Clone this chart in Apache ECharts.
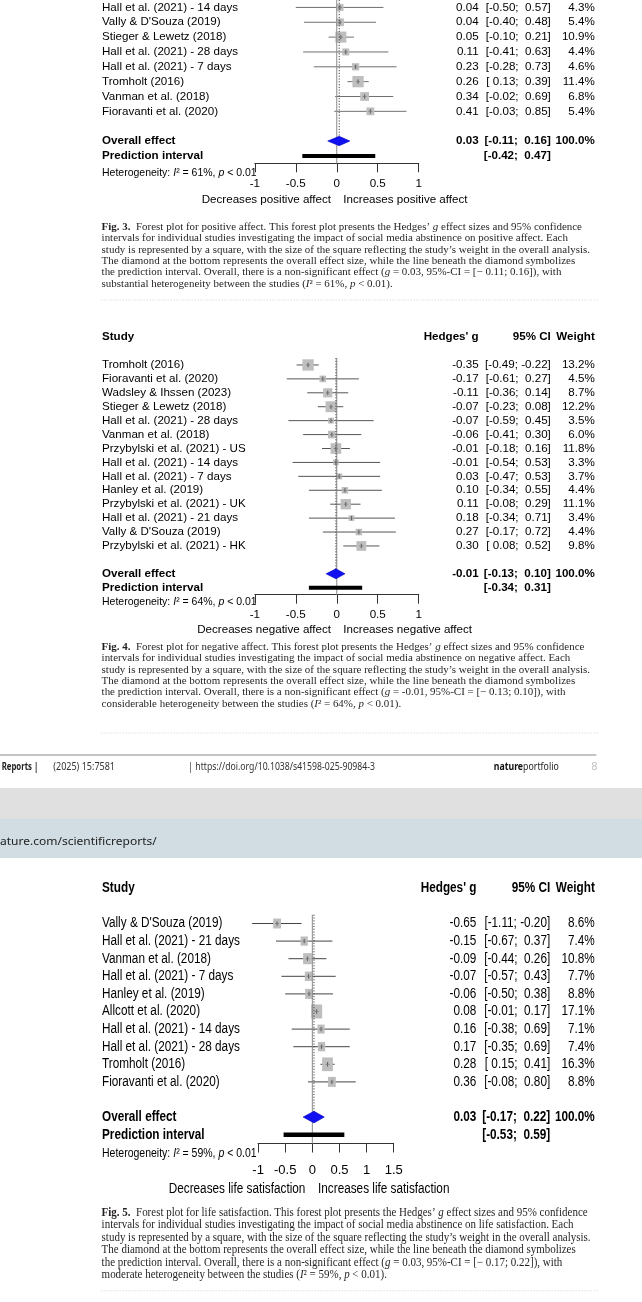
<!DOCTYPE html>
<html><head><meta charset="utf-8">
<script src="https://cdn.jsdelivr.net/npm/echarts@6/dist/echarts.min.js"></script>
<style>html,body{margin:0;padding:0;background:#fff}#chart{width:642px;height:1302px}</style>
</head><body><div id="chart"></div>
<script>
// ---------- DATA ----------
// Fig. 3 positive affect
const studies1 = ['Hall et al. (2021) - 14 days', "Vally & D'Souza (2019)", 'Stieger & Lewetz (2018)', 'Hall et al. (2021) - 28 days', 'Hall et al. (2021) - 7 days', 'Tromholt (2016)', 'Vanman et al. (2018)', 'Fioravanti et al. (2020)'];
const g1  = [0.04, 0.04, 0.05, 0.11, 0.23, 0.26, 0.34, 0.41];
const lo1 = [-0.50, -0.40, -0.10, -0.41, -0.28, 0.13, -0.02, -0.03];
const hi1 = [0.57, 0.48, 0.21, 0.63, 0.73, 0.39, 0.69, 0.85];
const w1  = [4.3, 5.4, 10.9, 4.4, 4.6, 11.4, 6.8, 5.4];
const overall1 = [0.03, -0.11, 0.16];
const pred1 = [-0.42, 0.47];
const i2_1 = 61;
const dir1 = ['Decreases positive affect', 'Increases positive affect'];
const ticks1 = ['-1', '-0.5', '0', '0.5', '1'];

// Fig. 4 negative affect
const studies2 = ['Tromholt (2016)', 'Fioravanti et al. (2020)', 'Wadsley & Ihssen (2023)', 'Stieger & Lewetz (2018)', 'Hall et al. (2021) - 28 days', 'Vanman et al. (2018)', 'Przybylski et al. (2021) - US', 'Hall et al. (2021) - 14 days', 'Hall et al. (2021) - 7 days', 'Hanley et al. (2019)', 'Przybylski et al. (2021) - UK', 'Hall et al. (2021) - 21 days', "Vally & D'Souza (2019)", 'Przybylski et al. (2021) - HK'];
const g2  = [-0.35, -0.17, -0.11, -0.07, -0.07, -0.06, -0.01, -0.01, 0.03, 0.10, 0.11, 0.18, 0.27, 0.30];
const lo2 = [-0.49, -0.61, -0.36, -0.23, -0.59, -0.41, -0.18, -0.54, -0.47, -0.34, -0.08, -0.34, -0.17, 0.08];
const hi2 = [-0.22, 0.27, 0.14, 0.08, 0.45, 0.30, 0.16, 0.53, 0.53, 0.55, 0.29, 0.71, 0.72, 0.52];
const w2  = [13.2, 4.5, 8.7, 12.2, 3.5, 6.0, 11.8, 3.3, 3.7, 4.4, 11.1, 3.4, 4.4, 9.8];
const overall2 = [-0.01, -0.13, 0.10];
const pred2 = [-0.34, 0.31];
const i2_2 = 64;
const dir2 = ['Decreases negative affect', 'Increases negative affect'];
const ticks2 = ['-1', '-0.5', '0', '0.5', '1'];

// Fig. 5 life satisfaction
const studies3 = ["Vally & D'Souza (2019)", 'Hall et al. (2021) - 21 days', 'Vanman et al. (2018)', 'Hall et al. (2021) - 7 days', 'Hanley et al. (2019)', 'Allcott et al. (2020)', 'Hall et al. (2021) - 14 days', 'Hall et al. (2021) - 28 days', 'Tromholt (2016)', 'Fioravanti et al. (2020)'];
const g3  = [-0.65, -0.15, -0.09, -0.07, -0.06, 0.08, 0.16, 0.17, 0.28, 0.36];
const lo3 = [-1.11, -0.67, -0.44, -0.57, -0.50, -0.01, -0.38, -0.35, 0.15, -0.08];
const hi3 = [-0.20, 0.37, 0.26, 0.43, 0.38, 0.17, 0.69, 0.69, 0.41, 0.80];
const w3  = [8.6, 7.4, 10.8, 7.7, 8.8, 17.1, 7.1, 7.4, 16.3, 8.8];
const overall3 = [0.03, -0.17, 0.22];
const pred3 = [-0.53, 0.59];
const i2_3 = 59;
const dir3 = ['Decreases life satisfaction', 'Increases life satisfaction'];
const ticks3 = ['-1', '-0.5', '0', '0.5', '1', '1.5'];

const headers = ['Study', "Hedges' g", '95% CI', 'Weight'];

const cap3 = [
 "{b|Fig. 3.}  Forest plot for positive affect. This forest plot presents the Hedges\u2019 {i|g} effect sizes and 95% confidence",
 "intervals for individual studies investigating the impact of social media abstinence on positive affect. Each",
 "study is represented by a square, with the size of the square reflecting the study\u2019s weight in the overall analysis.",
 "The diamond at the bottom represents the overall effect size, while the line beneath the diamond symbolizes",
 "the prediction interval. Overall, there is a non-significant effect ({i|g} = 0.03, 95%-CI = [\u2212 0.11; 0.16]), with",
 "substantial heterogeneity between the studies ({i|I}\u00b2 = 61%, {i|p} < 0.01)."
];
const cap4 = [
 "{b|Fig. 4.}  Forest plot for negative affect. This forest plot presents the Hedges\u2019 {i|g} effect sizes and 95% confidence",
 "intervals for individual studies investigating the impact of social media abstinence on negative affect. Each",
 "study is represented by a square, with the size of the square reflecting the study\u2019s weight in the overall analysis.",
 "The diamond at the bottom represents the overall effect size, while the line beneath the diamond symbolizes",
 "the prediction interval. Overall, there is a non-significant effect ({i|g} = -0.01, 95%-CI = [\u2212 0.13; 0.10]), with",
 "considerable heterogeneity between the studies ({i|I}\u00b2 = 64%, {i|p} < 0.01)."
];
const cap5 = [
 "{b|Fig. 5.}  Forest plot for life satisfaction. This forest plot presents the Hedges\u2019 {i|g} effect sizes and 95% confidence",
 "intervals for individual studies investigating the impact of social media abstinence on life satisfaction. Each",
 "study is represented by a square, with the size of the square reflecting the study\u2019s weight in the overall analysis.",
 "The diamond at the bottom represents the overall effect size, while the line beneath the diamond symbolizes",
 "the prediction interval. Overall, there is a non-significant effect ({i|g} = 0.03, 95%-CI = [\u2212 0.17; 0.22]), with",
 "moderate heterogeneity between the studies ({i|I}\u00b2 = 59%, {i|p} < 0.01)."
];

// ---------- LAYOUT ----------
const SANS = '"Liberation Sans", Arial, sans-serif';
const SERIF = '"Liberation Serif", "Times New Roman", serif';
const NOTO = '"Noto Sans", "Open Sans", sans-serif';

const D = [
  {labels: studies1, g: g1, lo: lo1, hi: hi1, w: w1, ov: overall1, pred: pred1, i2: i2_1, dir: dir1, ticks: ticks1},
  {labels: studies2, g: g2, lo: lo2, hi: hi2, w: w2, ov: overall2, pred: pred2, i2: i2_2, dir: dir2, ticks: ticks2},
  {labels: studies3, g: g3, lo: lo3, hi: hi3, w: w3, ov: overall3, pred: pred3, i2: i2_3, dir: dir3, ticks: ticks3}
];
const P = [
  {grid: {left: 254.8, top: 0, width: 163.9, height: 163.3}, xmin: -1, xmax: 1, fs: 11.6, sx: 1, sq: 11.3, sqh: 11.3,
   ciColor: '#707070', labelX: 102, gX: 478.6, ciX: 550.8, wX: 594.8, header: false, dh: 4.7, pbar: 4,
   hetFs: 10.5, dHet: 9.4, dDir: 36.7, gapL: 5.7, gapR: 6.6, tickFs: 11.6, tickLen: 9, margin: 14.5},
  {grid: {left: 254.8, top: 358.0, width: 163.9, height: 236.7}, xmin: -1, xmax: 1, fs: 11.6, sx: 1, sq: 11.3, sqh: 11.3,
   ciColor: '#555555', labelX: 102, gX: 478.6, ciX: 550.8, wX: 594.8, header: true, dh: 5, pbar: 4,
   hetFs: 10.5, dHet: 7.8, dDir: 35.3, gapL: 5.7, gapR: 6.6, tickFs: 11.6, tickLen: 9, margin: 14.5},
  {grid: {left: 258.1, top: 914.7, width: 135.6, height: 228.8}, xmin: -1, xmax: 1.5, fs: 14, sx: 0.84, sq: 11, sqh: 14,
   ciColor: '#444444', labelX: 102, gX: 476.4, ciX: 550.2, wX: 594.8, header: true, dh: 5.8, pbar: 4.5,
   hetFs: 12.5, dHet: 10.5, dDir: 45.2, gapL: 7, gapR: 5.7, tickFs: 13, tickLen: 9, margin: 20}
];

function pad(v) { return v < 0 ? v.toFixed(2) : ' ' + v.toFixed(2); }
function ci(lo, hi) { return '[' + pad(lo) + '; ' + pad(hi) + ']'; }

function txt(s, x, y, c, align, bold, fs) {
  const f = (bold ? 'bold ' : '') + (fs || c.fs) + 'px ' + SANS;
  return {type: 'text', x: x, y: y, scaleX: c.sx, originX: 0, originY: 0,
    style: {text: s, x: 0, y: 0, font: f, fill: '#000', align: align, verticalAlign: 'middle'}};
}

function rowsItem(k) {
  const c = P[k], d = D[k];
  const wmax = Math.max.apply(null, d.w);
  return function (params, api) {
    const i = params.dataIndex;
    const est = api.value(0), r = api.value(1), lo = api.value(2), hi = api.value(3), w = api.value(4);
    const p = api.coord([est, r]);
    const y = p[1];
    const xl = api.coord([lo, r])[0], xh = api.coord([hi, r])[0];
    const s = Math.sqrt(w / wmax);
    const sw = c.sq * s, sh = c.sqh * s;
    return {type: 'group', children: [
      {type: 'line', shape: {x1: xl, y1: y, x2: xh, y2: y}, style: {stroke: c.ciColor, lineWidth: 1}},
      {type: 'rect', shape: {x: p[0] - sw / 2, y: y - sh / 2, width: sw, height: sh}, style: {fill: '#bebebe'}},
      {type: 'line', shape: {x1: p[0], y1: y - 2.2, x2: p[0], y2: y + 2.2}, style: {stroke: '#444', lineWidth: 0.8}},
      {type: 'line', shape: {x1: p[0] - 2, y1: y, x2: p[0] + 2, y2: y}, style: {stroke: '#777', lineWidth: 0.8}},
      txt(d.labels[i], c.labelX, y, c, 'left', false),
      txt(est.toFixed(2), c.gX, y, c, 'right', false),
      txt(ci(lo, hi), c.ciX, y, c, 'right', false),
      txt(w.toFixed(1) + '%', c.wX, y, c, 'right', false)
    ]};
  };
}

function sumItem(k) {
  const c = P[k], d = D[k], n = d.labels.length;
  const rOv = n + 1, rPr = n + 2, yMax = n + 2.5;
  return function (params, api) {
    const yTop = api.coord([0, -0.5])[1], yAx = api.coord([0, yMax])[1];
    const x0 = api.coord([0, 0])[0];
    const pO = api.coord([d.ov[0], rOv]);
    const xL = api.coord([d.ov[1], rOv])[0], xH = api.coord([d.ov[2], rOv])[0];
    const yP = api.coord([0, rPr])[1];
    const pL = api.coord([d.pred[0], rPr])[0], pH = api.coord([d.pred[1], rPr])[0];
    const ch = [
      {type: 'line', shape: {x1: x0, y1: yTop, x2: x0, y2: yAx}, style: {stroke: '#8a8a8a', lineWidth: 1}},
      {type: 'line', shape: {x1: pO[0], y1: yTop, x2: pO[0], y2: pO[1]}, style: {stroke: '#444', lineWidth: 1, lineDash: [1.2, 1.6]}},
      {type: 'polygon', shape: {points: [[xL, pO[1]], [pO[0], pO[1] - c.dh], [xH, pO[1]], [pO[0], pO[1] + c.dh]]},
       style: {fill: '#1010f0', stroke: '#0000c0', lineWidth: 0.6}},
      {type: 'rect', shape: {x: pL, y: yP - c.pbar / 2, width: pH - pL, height: c.pbar}, style: {fill: '#000'}},
      txt('Overall effect', c.labelX, pO[1], c, 'left', true),
      txt('Prediction interval', c.labelX, yP, c, 'left', true),
      txt(d.ov[0].toFixed(2), c.gX, pO[1], c, 'right', true),
      txt(ci(d.ov[1], d.ov[2]), c.ciX, pO[1], c, 'right', true),
      txt('100.0%', c.wX, pO[1], c, 'right', true),
      txt(ci(d.pred[0], d.pred[1]), c.ciX, yP, c, 'right', true),
      {type: 'text', x: c.labelX, y: yAx + c.dHet, scaleX: c.sx, originX: 0, originY: 0,
       style: {text: 'Heterogeneity: {i|I}\u00b2 = ' + d.i2 + '%, {i|p} < 0.01', x: 0, y: 0,
         font: c.hetFs + 'px ' + SANS, fill: '#000', align: 'left', verticalAlign: 'middle',
         rich: {i: {font: 'italic ' + c.hetFs + 'px ' + SANS, fill: '#000'}}}},
      txt(d.dir[0], x0 - c.gapL, yAx + c.dDir, c, 'right', false),
      txt(d.dir[1], x0 + c.gapR, yAx + c.dDir, c, 'left', false)
    ];
    if (c.header) {
      const yh = api.coord([0, -2])[1];
      ch.push(txt(headers[0], c.labelX, yh, c, 'left', true));
      ch.push(txt(headers[1], c.gX, yh, c, 'right', true));
      ch.push(txt(headers[2], c.ciX, yh, c, 'right', true));
      ch.push(txt(headers[3], c.wX, yh, c, 'right', true));
    }
    return {type: 'group', children: ch};
  };
}

const grids = [], xAxes = [], yAxes = [], series = [];
P.forEach(function (c, k) {
  const d = D[k], n = d.labels.length;
  grids.push(Object.assign({containLabel: false}, c.grid));
  xAxes.push({gridIndex: k, type: 'value', min: c.xmin, max: c.xmax, interval: 0.5,
    axisLine: {show: true, onZero: false, lineStyle: {color: '#333', width: 1}},
    axisTick: {show: true, length: c.tickLen, lineStyle: {color: '#333', width: 1}},
    axisLabel: {fontSize: c.tickFs, fontFamily: SANS, color: '#000', margin: c.margin,
      formatter: function (v) { return d.ticks[Math.round((v - c.xmin) / 0.5)]; }},
    splitLine: {show: false}});
  yAxes.push({gridIndex: k, type: 'value', min: -0.5, max: n + 2.5, inverse: true, show: false});
  series.push({type: 'custom', xAxisIndex: k, yAxisIndex: k, clip: false, silent: true, z: 2,
    renderItem: rowsItem(k),
    encode: {x: [0, 2, 3], y: 1},
    data: d.g.map(function (v, i) { return [v, i, d.lo[i], d.hi[i], d.w[i]]; })});
  series.push({type: 'custom', xAxisIndex: k, yAxisIndex: k, clip: false, silent: true, z: 3,
    renderItem: sumItem(k),
    encode: {x: 0, y: 1},
    data: [[d.ov[0], n + 1]]});
});

// ---------- page decoration (captions, footer) ----------
const cv = document.createElement('canvas').getContext('2d');
function measure(t, font) { cv.font = font; return cv.measureText(t).width; }
function plain(t) { return t.replace(/\{[a-z]+\|([^}]*)\}/g, '$1'); }

const graphics = [];
function caption(lines, y0, dy, fs, refWidth) {
  const font = fs + 'px ' + SERIF;
  const sc = refWidth / measure(plain(lines[2]), font);
  lines.forEach(function (t, i) {
    graphics.push({type: 'text', x: 101.6, y: y0 + i * dy, scaleX: sc, originX: 0, originY: 0, silent: true,
      style: {text: t, x: 0, y: 0, font: font, fill: '#231f20', align: 'left', verticalAlign: 'middle',
        rich: {b: {font: 'bold ' + fs + 'px ' + SERIF, fill: '#231f20'},
               i: {font: 'italic ' + fs + 'px ' + SERIF, fill: '#231f20'}}}});
  });
}
caption(cap3, 226.7, 11.46, 11, 488.4);
caption(cap4, 646.7, 11.46, 11, 488.4);
caption(cap5, 1212.7, 12.46, 12, 489);

[300, 733, 1290.7].forEach(function (y) {
  graphics.push({type: 'line', silent: true, shape: {x1: 101.6, y1: y, x2: 598, y2: y},
    style: {stroke: '#cfcfcf', lineWidth: 1, lineDash: [1, 2]}});
});

graphics.push({type: 'rect', silent: true, shape: {x: 0, y: 788, width: 642, height: 31}, style: {fill: '#e0e0e0'}});
graphics.push({type: 'rect', silent: true, shape: {x: 0, y: 819, width: 642, height: 39}, style: {fill: '#d1dde3'}});
graphics.push({type: 'line', silent: true, shape: {x1: 0, y1: 755, x2: 596.3, y2: 755}, style: {stroke: '#c4c4c4', lineWidth: 2}});

function fitText(t, font, x, y, target, fill, rich, mw) {
  const w = mw || measure(t, font);
  graphics.push({type: 'text', silent: true, x: x, y: y, scaleX: target / w, originX: 0, originY: 0,
    style: {text: t, x: 0, y: 0, font: font, fill: fill, align: 'left', verticalAlign: 'middle', rich: rich}});
}
fitText('Reports |', 'bold 10px ' + NOTO, 1.7, 767.3, 36.6, '#222');
fitText('(2025) 15:7581', '10px ' + NOTO, 53.3, 767.3, 61.7, '#333');
fitText('| https://doi.org/10.1038/s41598-025-90984-3', '10px ' + NOTO, 188.3, 767.3, 186.7, '#333');
const npW = measure('nature', 'bold 10px ' + NOTO) + measure('portfolio', '10px ' + NOTO);
fitText('{b|nature}portfolio', '10px ' + NOTO, 493.7, 766.7, 65, '#222', {b: {font: 'bold 10px ' + NOTO, fill: '#111'}}, npW);
graphics.push({type: 'text', silent: true, x: 591.3, y: 766.7,
  style: {text: '8', x: 0, y: 0, font: '11px ' + NOTO, fill: '#c0c0c0', align: 'left', verticalAlign: 'middle'}});
fitText('ature.com/scientificreports/', '11px ' + NOTO, 0, 842, 156.7, '#222');

const chart = echarts.init(document.getElementById('chart'), null, {renderer: 'canvas'});
chart.setOption({
  animation: false,
  backgroundColor: '#ffffff',
  grid: grids,
  xAxis: xAxes,
  yAxis: yAxes,
  series: series,
  graphic: {elements: graphics}
});
</script>
</body></html>
